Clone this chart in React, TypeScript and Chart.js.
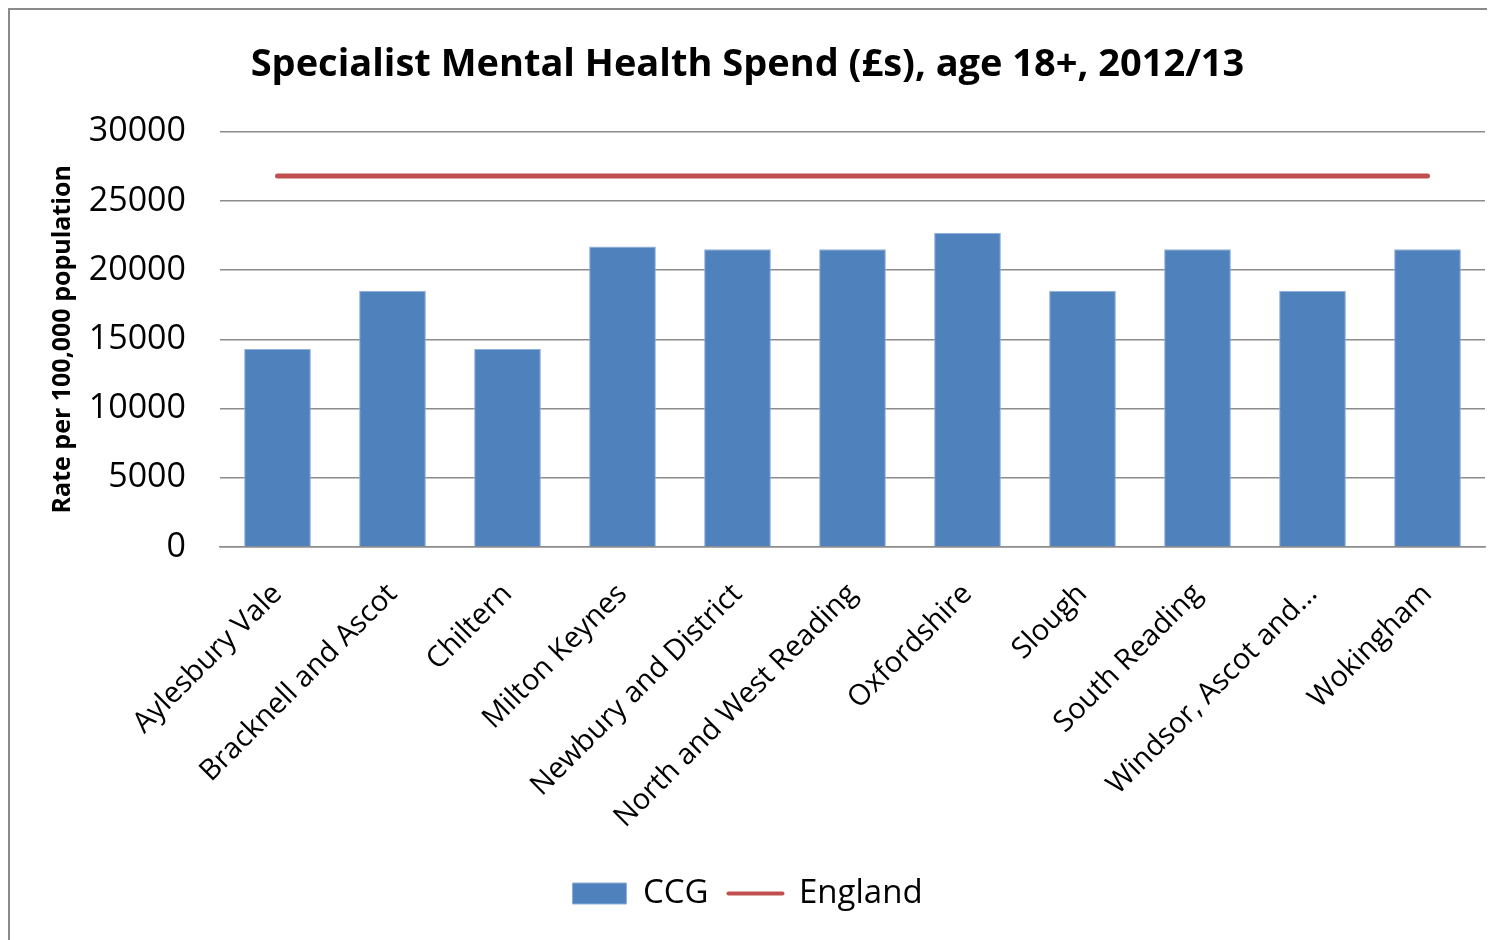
import React, { useEffect, useRef } from "react";
import { Chart, registerables } from "chart.js";

Chart.register(...registerables);

const categories = [
  "Aylesbury Vale",
  "Bracknell and Ascot",
  "Chiltern",
  "Milton Keynes",
  "Newbury and District",
  "North and West Reading",
  "Oxfordshire",
  "Slough",
  "South Reading",
  "Windsor, Ascot and…",
  "Wokingham",
];
const ccgValues = [14300, 18500, 14300, 21700, 21500, 21500, 22700, 18500, 21500, 18500, 21500];
const englandValues = [26800, 26800, 26800, 26800, 26800, 26800, 26800, 26800, 26800, 26800, 26800];

const titleText = "Specialist Mental Health Spend (£s), age 18+, 2012/13";
const yTitle = "Rate per 100,000 population";
const FONT = "'Open Sans', 'DejaVu Sans', sans-serif";

export default function App() {
  const ref = useRef<HTMLCanvasElement | null>(null);

  useEffect(() => {
    document.body.style.overflow = "hidden";
    const canvas = ref.current;
    if (!canvas) return;
    const chart = new Chart(canvas, {
      type: "bar",
      data: {
        labels: categories,
        datasets: [
          {
            type: "line",
            label: "England",
            data: englandValues,
            borderColor: "#C0504D",
            backgroundColor: "#C0504D",
            borderWidth: 5,
            borderCapStyle: "round",
            pointRadius: 0,
            pointHoverRadius: 0,
            tension: 0,
            order: 0,
          },
          {
            type: "bar",
            label: "CCG",
            data: ccgValues,
            backgroundColor: "#4F81BD",
            borderColor: "#8FB0DA",
            borderWidth: 1,
            barPercentage: 0.58,
            categoryPercentage: 1,
            order: 1,
          },
        ],
      },
      options: {
        responsive: false,
        animation: false,
        maintainAspectRatio: false,
        layout: { padding: { left: 0, right: 10, top: 0, bottom: 20 } },
        plugins: {
          title: {
            display: true,
            text: titleText,
            color: "#000",
            font: { family: FONT, size: 38, weight: "bold" },
            padding: { top: 32, bottom: 44 },
          },
          legend: {
            position: "bottom",
            labels: {
              color: "#000",
              font: { family: FONT, size: 33 },
              usePointStyle: true,
              pointStyleWidth: 54,
              boxHeight: 21,
              padding: 20,
              generateLabels: () => [
                {
                  text: "CCG",
                  fillStyle: "#4F81BD",
                  strokeStyle: "#8FB0DA",
                  lineWidth: 1,
                  pointStyle: "rect",
                  datasetIndex: 1,
                  hidden: false,
                  fontColor: "#000",
                },
                {
                  text: "England",
                  fillStyle: "#C0504D",
                  strokeStyle: "#C0504D",
                  lineWidth: 4,
                  lineCap: "round",
                  pointStyle: "line",
                  datasetIndex: 0,
                  hidden: false,
                  fontColor: "#000",
                },
              ],
            },
          },
          tooltip: { enabled: false },
        },
        scales: {
          x: {
            grid: { display: false, drawTicks: false },
            border: { display: true, color: "#8C8C8C", width: 1.5 },
            ticks: {
              color: "#000",
              font: { family: FONT, size: 29 },
              maxRotation: 45,
              minRotation: 45,
              autoSkip: false,
              padding: 30,
            },
            afterFit: (scale: any) => {
              scale.height = 310;
            },
          },
          y: {
            min: 0,
            max: 30000,
            grid: { color: "#8C8C8C", lineWidth: 1.5, drawTicks: false },
            border: { display: false },
            ticks: {
              stepSize: 5000,
              color: "#000",
              font: { family: FONT, size: 34 },
              padding: 34,
              callback: (v: any) => String(v),
            },
            title: {
              display: true,
              text: yTitle,
              color: "#000",
              font: { family: FONT, size: 25, weight: "bold" },
              padding: { top: 38, bottom: 0 },
            },
            afterFit: (scale: any) => {
              scale.width = 210;
            },
          },
        },
      },
    });
    return () => chart.destroy();
  }, []);

  return (
    <div
      style={{
        position: "relative",
        width: 1500,
        height: 940,
        border: "2px solid #8A8A8A",
        boxSizing: "border-box",
        overflow: "hidden",
        background: "#fff",
      }}
    >
      <canvas ref={ref} width={1485} height={930} style={{ display: "block", width: 1485, height: 930 }} />
    </div>
  );
}
